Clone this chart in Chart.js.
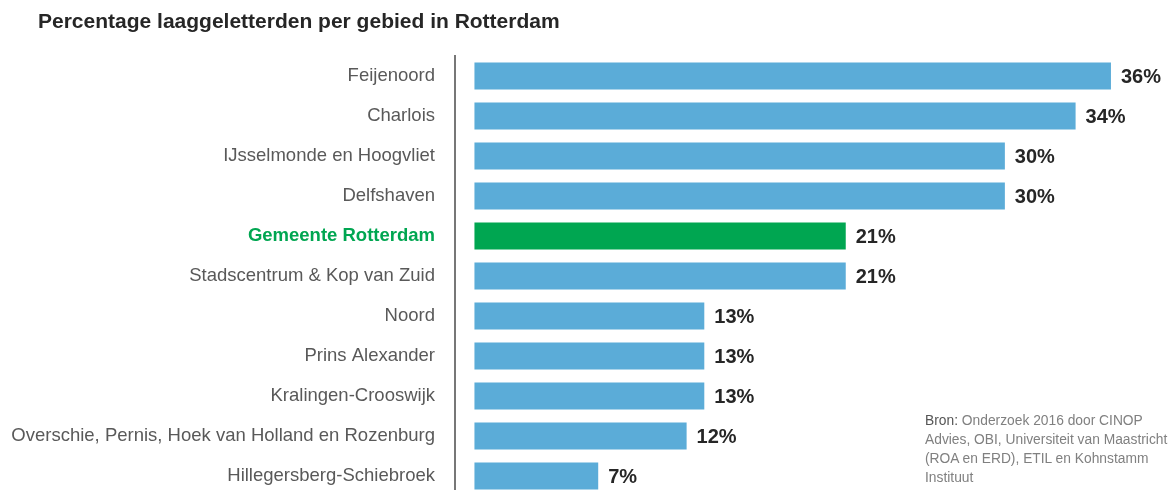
<!DOCTYPE html>
<html>
<head>
<meta charset="utf-8">
<script src="https://cdn.jsdelivr.net/npm/chart.js@4.4.0/dist/chart.umd.min.js"></script>
<style>
  body { margin: 0; width: 1176px; height: 490px; overflow: hidden; background: #fff; font-family: "Liberation Sans", Arial, sans-serif; }
  #wrap { position: relative; width: 1176px; height: 500px; }
  #bron { position: absolute; left: 925px; top: 411px; font-size: 13.8px; line-height: 19px; color: #808080; white-space: nowrap; }
  #bron span { color: #555; }
</style>
</head>
<body>
<div id="wrap">
  <canvas id="barChart" width="1176" height="500"></canvas>
  <div id="bron"><span>Bron:</span> Onderzoek 2016 door CINOP<br>Advies, OBI, Universiteit van Maastricht<br>(ROA en ERD), ETIL en Kohnstamm<br>Instituut</div>
</div>
<script>
// data
var gebieden = ["Feijenoord", "Charlois", "IJsselmonde en Hoogvliet", "Delfshaven", "Gemeente Rotterdam",
    "Stadscentrum & Kop van Zuid", "Noord", "Prins Alexander", "Kralingen-Crooswijk",
    "Overschie, Pernis, Hoek van Holland en Rozenburg", "Hillegersberg-Schiebroek"];
var percentages = [36, 34, 30, 30, 21, 21, 13, 13, 13, 12, 7];
var gemeente = "Gemeente Rotterdam";

var blauw = "#5bacd8";
var groen = "#00a651";
var kleuren = gebieden.map(function (g) { return g === gemeente ? groen : blauw; });

// value labels after the bars
var labelPlugin = {
    id: 'valueLabels',
    afterLayout: function (chart) {
        // title starts a bit to the right of the canvas edge
        chart.titleBlock.left = 38;
    },
    afterDatasetsDraw: function (chart) {
        var ctx = chart.ctx;
        var meta = chart.getDatasetMeta(0);
        ctx.save();
        ctx.font = 'bold 20px "Liberation Sans", Arial, sans-serif';
        ctx.fillStyle = '#262626';
        ctx.textAlign = 'left';
        ctx.textBaseline = 'middle';
        meta.data.forEach(function (bar, i) {
            ctx.fillText(percentages[i] + '%', bar.x + 10, bar.y + 1);
        });
        ctx.restore();
    }
};

var ctxB = document.getElementById("barChart").getContext('2d');
var myBarChart = new Chart(ctxB, {
    type: 'bar',
    data: {
        labels: gebieden,
        datasets: [{
            data: percentages,
            backgroundColor: kleuren,
            barPercentage: 0.68,
            categoryPercentage: 1
        }]
    },
    options: {
        indexAxis: 'y',
        responsive: false,
        animation: false,
        layout: { padding: { left: 0, right: 12, top: 0, bottom: 4 } },
        plugins: {
            legend: { display: false },
            tooltip: { enabled: false },
            title: {
                display: true,
                text: 'Percentage laaggeletterden per gebied in Rotterdam',
                align: 'start',
                color: '#262626',
                font: { family: '"Liberation Sans", Arial, sans-serif', size: 21, weight: 'bold' },
                padding: { top: 10, bottom: 20.8 }
            }
        },
        scales: {
            x: {
                display: false,
                min: -1.1,
                max: 39
            },
            y: {
                grid: { display: false },
                border: { display: true, color: '#777', width: 2 },
                afterFit: function (scale) {
                    scale.width = 455;
                    scale.paddingTop = 0;
                    scale.paddingBottom = 0;
                },
                ticks: {
                    padding: 12,
                    color: function (c) { return gebieden[c.index] === gemeente ? groen : '#595959'; },
                    font: function (c) {
                        return {
                            family: '"Liberation Sans", Arial, sans-serif',
                            size: 18.5,
                            weight: gebieden[c.index] === gemeente ? 'bold' : 'normal'
                        };
                    }
                }
            }
        }
    },
    plugins: [labelPlugin]
});
</script>
</body>
</html>
